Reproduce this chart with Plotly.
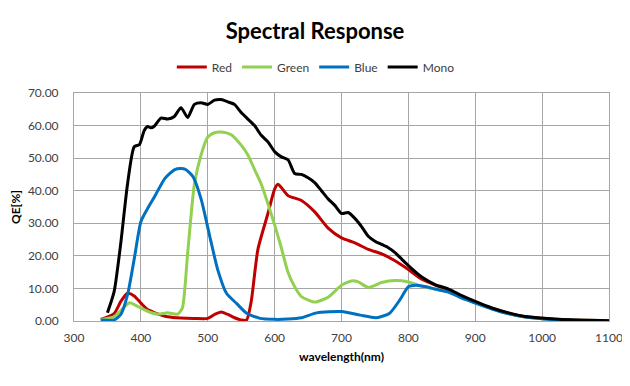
import plotly.graph_objects as go

# ---- data ----
mono_wl = [350, 360, 370, 380, 390, 398, 405, 410, 415, 420, 430, 440, 450, 460, 470, 480, 490, 500, 510, 520, 530, 540,
           550, 560, 570, 580, 590, 600, 610, 620, 630, 640, 650, 660, 670, 680, 690, 700, 710, 720, 730, 740,
           750, 760, 770, 780, 790, 800, 820, 840, 860, 880, 900, 925, 950, 975, 1000, 1025, 1050, 1075, 1100]
mono_qe = [2.5, 9, 24, 42, 53.5, 54.2, 58.5, 59.7, 59.3, 59.8, 62.3, 62, 62.8, 65.5, 62.5, 66.5, 67, 66.5, 67.8, 68, 67.3, 66.5,
           64, 62, 60, 57, 55, 52, 50.4, 49.5, 45.3, 45, 44, 42.5, 40, 37.5, 35.5, 33, 33.3, 31.5, 29, 26,
           24.5, 23.5, 22.5, 21, 19, 17, 13.5, 11.2, 9.8, 7.8, 6, 4, 2.5, 1.4, 0.9, 0.5, 0.3, 0.2, 0.1]

red_wl = [340, 360, 370, 380, 390, 400, 410, 420, 440, 460, 480, 500, 510, 520, 530, 540, 550, 558, 565, 575, 590,
          600, 605, 610, 620, 640, 660, 680, 700, 720, 740, 760, 780, 800, 820, 840, 860, 880, 900, 925, 950,
          975, 1000, 1025, 1050, 1075, 1100]
red_qe = [0.5, 2.3, 6, 8.5, 7.7, 5.5, 3.5, 2.6, 1.3, 0.9, 0.8, 0.8, 2, 2.8, 2, 1, 0.3, 0.3, 6, 22, 33,
          40.5, 42, 41, 38.5, 37, 33.5, 28.5, 25.5, 24, 22, 20.6, 18.5, 15.8, 12.8, 11, 9.4, 7.5, 5.8, 3.9, 2.4,
          1.3, 0.8, 0.4, 0.25, 0.15, 0.1]

green_wl = [340, 360, 370, 383, 395, 410, 425, 440, 455, 462, 470, 480, 490, 500, 510, 520, 535, 550, 560, 570,
            580, 590, 600, 610, 620, 630, 640, 660, 680, 700, 715, 725, 740, 760, 780, 800, 820, 840, 860, 880,
            900, 925, 950, 975, 1000, 1025, 1050, 1075, 1100]
green_qe = [0.5, 1.3, 3.2, 5.6, 4.5, 3, 2.1, 2.5, 2.1, 4, 21, 42, 51, 56.5, 57.8, 58, 57.2, 54, 51, 46.5,
            42, 36, 29.5, 22.5, 15, 10.5, 7.5, 5.8, 7.3, 11, 12.3, 12, 10.3, 11.8, 12.4, 12, 10.7, 9.8, 9, 7.2,
            5.6, 3.8, 2.3, 1.2, 0.7, 0.4, 0.25, 0.15, 0.1]

blue_wl = [340, 360, 370, 380, 390, 400, 410, 420, 436, 450, 460, 467, 478, 490, 503, 515, 528, 543, 558, 578,
           600, 620, 640, 663, 700, 728, 752, 772, 787, 800, 812, 827, 840, 860, 880, 900, 925, 950, 975, 1000,
           1025, 1050, 1075, 1100]
blue_qe = [0.3, 0.3, 2, 8, 19, 30.5, 34.5, 38, 43.8, 46.4, 46.8, 46.5, 44.3, 37.5, 26, 15.7, 8.5, 5.4, 2.4, 0.8,
           0.5, 0.6, 1, 2.5, 2.9, 1.8, 1.0, 2.4, 6.4, 10.5, 11, 10.5, 9.8, 8.9, 7, 5.5, 3.7, 2.2, 1.2, 0.7,
           0.35, 0.2, 0.12, 0.08]

series = [
    ("Red", red_wl, red_qe, "#C00000"),
    ("Green", green_wl, green_qe, "#92D050"),
    ("Blue", blue_wl, blue_qe, "#0070C0"),
    ("Mono", mono_wl, mono_qe, "#000000"),
]

FONT = "Lato"
W, H = 622, 378

fig = go.Figure()
for name, x, y, c in series:
    fig.add_trace(go.Scatter(x=x, y=y, name=name, mode="lines",
                             line=dict(color=c, width=3, shape="spline", smoothing=0.6)))

fig.update_layout(
    width=W, height=H,
    margin=dict(l=66, r=21, t=85, b=65),
    paper_bgcolor="white", plot_bgcolor="white",
    font=dict(family=FONT, size=12, color="#404040"),
    title=dict(text="<b>Spectral Response</b>", x=307 / W, xanchor="center", y=1 - 23 / H, yanchor="middle",
               font=dict(family=FONT, size=22, color="black")),
    legend=dict(orientation="h", x=0.452, xanchor="center", y=1.114, yanchor="middle",
                font=dict(family=FONT, size=12, color="#404040"), itemwidth=30,
                tracegroupgap=0),
    showlegend=True,
)
fig.update_xaxes(range=[300, 1100], dtick=100, tick0=300, showgrid=True, gridcolor="#A6A6A6", gridwidth=1,
                 showline=True, linecolor="#A6A6A6", mirror=True, ticks="", zeroline=False, automargin=False,
                 ticklabelstandoff=6,
                 tickfont=dict(family=FONT, size=12, color="#404040"),
                 title=dict(text="<b>wavelength(nm)</b>", standoff=8, font=dict(family=FONT, size=12, color="black")))
fig.update_yaxes(range=[0, 70], dtick=10, tickformat=".2f", showgrid=True, gridcolor="#A6A6A6", gridwidth=1,
                 showline=True, linecolor="#A6A6A6", mirror=True, ticks="", zeroline=False, automargin=False,
                 ticklabelstandoff=12,
                 tickfont=dict(family=FONT, size=12, color="#404040"),
                 title=dict(text="<b>QE[%]</b>", standoff=8, font=dict(family=FONT, size=12, color="black")))

fig.write_html("out.html")
